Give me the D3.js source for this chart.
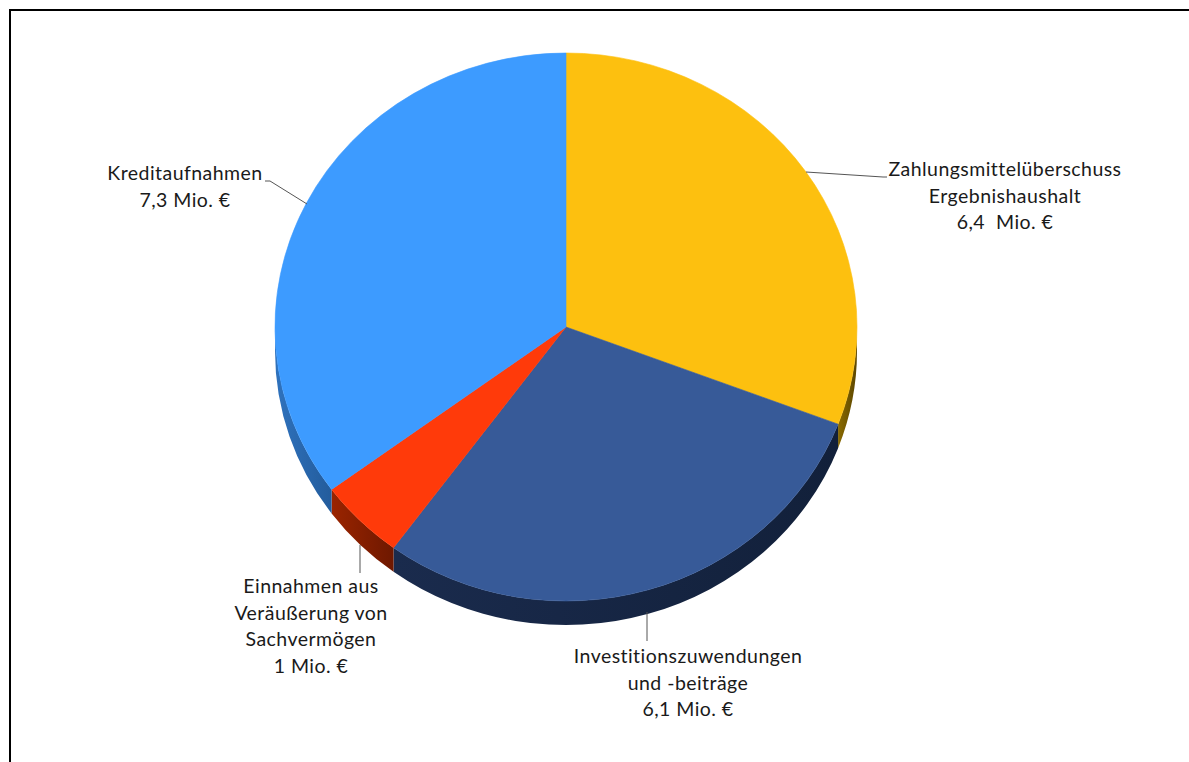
<!DOCTYPE html>
<html>
<head>
<meta charset="utf-8">
<script src="https://cdn.jsdelivr.net/npm/d3@7"></script>
<style>
  html, body { margin: 0; padding: 0; background: #fff; }
  svg { display: block; }
  text { font-family: Lato, "Open Sans", sans-serif; fill: #1a1a1a; }
</style>
</head>
<body>
<svg id="chart" width="1189" height="762"></svg>
<script>
// Finanzierungsquellen (Mio. €)
const categories = [
  "Zahlungsmittelüberschuss Ergebnishaushalt",
  "Investitionszuwendungen und -beiträge",
  "Einnahmen aus Veräußerung von Sachvermögen",
  "Kreditaufnahmen"
];
const values = [6.4, 6.1, 1, 7.3];
const labelLines = [
  ["Zahlungsmittelüberschuss", "Ergebnishaushalt", "6,4  Mio. €"],
  ["Investitionszuwendungen", "und -beiträge", "6,1 Mio. €"],
  ["Einnahmen aus", "Veräußerung von", "Sachvermögen", "1 Mio. €"],
  ["Kreditaufnahmen", "7,3 Mio. €"]
];
const topColors  = ["#FDC00F", "#375A98", "#FF3A0A", "#3D9BFF"];
const wallColors = [["#8a6a00", "#5c4600"], ["#1a2b4d", "#12203a"], ["#9a2400", "#6e1800"], ["#2f72bd", "#235c9c"]];

const svg = d3.select("#chart");
const W = 1189, H = 762;

// frame (top and left edges visible)
svg.append("path")
  .attr("d", `M10,${H} L10,10 L${W},10`)
  .attr("fill", "none").attr("stroke", "#000").attr("stroke-width", 2);

// tilted pie geometry
const cx = 566, cy = 327, rx = 291, ry = 274, depth = 24;
const px = a => cx + rx * Math.sin(a);
const py = (a, d = 0) => cy - ry * Math.cos(a) + d;

const pie = d3.pie().sort(null).value(d => d).startAngle(0).endAngle(2 * Math.PI);
const arcs = pie(values);

const defs = svg.append("defs");
wallColors.forEach((c, i) => {
  const g = defs.append("linearGradient").attr("id", "wall" + i)
    .attr("x1", "0").attr("y1", "0").attr("x2", "1").attr("y2", "0");
  g.append("stop").attr("offset", "0").attr("stop-color", c[0]);
  g.append("stop").attr("offset", "1").attr("stop-color", c[1]);
});

// side walls: only the front half (π/2 .. 3π/2) is visible
const gWalls = svg.append("g");
arcs.forEach((s, i) => {
  const a0 = Math.max(s.startAngle, Math.PI / 2);
  const a1 = Math.min(s.endAngle, 3 * Math.PI / 2);
  if (a1 <= a0) return;
  const large = (a1 - a0) > Math.PI ? 1 : 0;
  const d = `M${px(a0)},${py(a0)}`
    + ` A${rx},${ry} 0 ${large} 1 ${px(a1)},${py(a1)}`
    + ` L${px(a1)},${py(a1, depth)}`
    + ` A${rx},${ry} 0 ${large} 0 ${px(a0)},${py(a0, depth)} Z`;
  gWalls.append("path").attr("d", d).attr("fill", `url(#wall${i})`);
});

// top faces
const gTop = svg.append("g");
arcs.forEach((s, i) => {
  const a0 = s.startAngle, a1 = s.endAngle;
  const large = (a1 - a0) > Math.PI ? 1 : 0;
  const d = `M${cx},${cy} L${px(a0)},${py(a0)}`
    + ` A${rx},${ry} 0 ${large} 1 ${px(a1)},${py(a1)} Z`;
  gTop.append("path").attr("d", d).attr("fill", topColors[i])
    .attr("stroke", topColors[i]).attr("stroke-width", 0.6);
});

// labels with leader lines
const fontSize = 19.5, lineH = 26.5;
const labelPos = [
  { x: 1005, y: 171, leader: [[806, 172], [883, 177], [887, 177]] },
  { x: 688, y: 658, leader: [[647, 612], [647, 641]] },
  { x: 311, y: 588, leader: [[360, 545], [360, 573]] },
  { x: 185, y: 175, leader: [[265, 181], [270, 181], [307, 204]] }
];
const gLab = svg.append("g");
labelPos.forEach((p, i) => {
  gLab.append("path")
    .attr("d", d3.line()(p.leader))
    .attr("fill", "none").attr("stroke", "#555").attr("stroke-width", 1);
  const t = gLab.append("text")
    .attr("x", p.x).attr("y", p.y)
    .attr("text-anchor", "middle")
    .attr("dominant-baseline", "middle")
    .attr("font-size", fontSize)
    .attr("letter-spacing", 0.45);
  labelLines[i].forEach((ln, k) => {
    t.append("tspan").attr("x", p.x).attr("y", p.y + k * lineH)
      .attr("xml:space", "preserve").style("white-space", "pre").text(ln);
  });
});
</script>
</body>
</html>
